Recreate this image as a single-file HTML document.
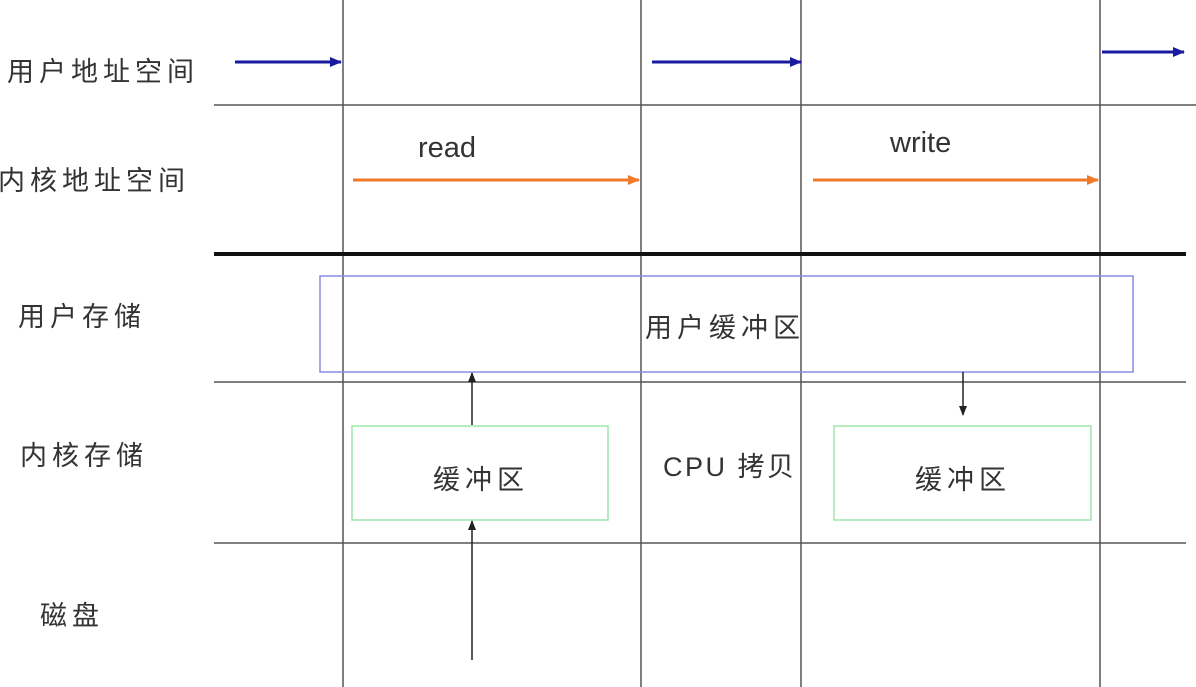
<!DOCTYPE html>
<html><head><meta charset="utf-8"><style>
html,body{margin:0;padding:0;background:#fff;width:1196px;height:687px;overflow:hidden}
svg text{font-family:"Liberation Sans","Noto Sans CJK SC",sans-serif;fill:#333}
</style></head><body>
<svg width="1196" height="687" viewBox="0 0 1196 687" xmlns="http://www.w3.org/2000/svg">
<defs>
<marker id="ab" markerWidth="12" markerHeight="12" refX="11" refY="6" orient="auto" markerUnits="userSpaceOnUse"><path d="M0,1 L12,6 L0,11z" fill="#1a1aa0"/></marker>
<marker id="ao" markerWidth="12" markerHeight="12" refX="11" refY="6" orient="auto" markerUnits="userSpaceOnUse"><path d="M0,1 L12,6 L0,11z" fill="#f07a2a"/></marker>
<marker id="ak" markerWidth="10" markerHeight="10" refX="9" refY="5" orient="auto" markerUnits="userSpaceOnUse"><path d="M0,1 L10,5 L0,9z" fill="#222"/></marker>
</defs>
<g stroke="#555" stroke-width="1.5">
<line x1="214" y1="105" x2="1196" y2="105"/>
<line x1="214" y1="382" x2="1186" y2="382"/>
<line x1="214" y1="543" x2="1186" y2="543"/>
<line x1="343" y1="0" x2="343" y2="687"/>
<line x1="641" y1="0" x2="641" y2="687"/>
<line x1="801" y1="0" x2="801" y2="687"/>
<line x1="1100" y1="0" x2="1100" y2="687"/>
</g>
<line x1="214" y1="254" x2="1186" y2="254" stroke="#111" stroke-width="4"/>
<rect x="320" y="276" width="813" height="96" fill="none" stroke="#8a8ae8" stroke-width="1.5"/>
<rect x="352" y="426" width="256" height="94" fill="none" stroke="#9ee6a8" stroke-width="1.5"/>
<rect x="834" y="426" width="257" height="94" fill="none" stroke="#9ee6a8" stroke-width="1.5"/>
<g stroke="#1a1aa0" stroke-width="3">
<line x1="235" y1="62" x2="341" y2="62" marker-end="url(#ab)"/>
<line x1="652" y1="62" x2="801" y2="62" marker-end="url(#ab)"/>
<line x1="1102" y1="52" x2="1184" y2="52" marker-end="url(#ab)"/>
</g>
<g stroke="#f07a2a" stroke-width="3">
<line x1="353" y1="180" x2="639" y2="180" marker-end="url(#ao)"/>
<line x1="813" y1="180" x2="1098" y2="180" marker-end="url(#ao)"/>
</g>
<g stroke="#222" stroke-width="1.5">
<line x1="472" y1="425" x2="472" y2="373" marker-end="url(#ak)"/>
<line x1="472" y1="660" x2="472" y2="521" marker-end="url(#ak)"/>
<line x1="963" y1="372" x2="963" y2="415" marker-end="url(#ak)"/>
</g>
<g font-size="27">
<text x="7" y="81" letter-spacing="5">用户地址空间</text>
<text x="-2" y="190" letter-spacing="5">内核地址空间</text>
<text x="18" y="326" letter-spacing="5">用户存储</text>
<text x="20" y="465" letter-spacing="5">内核存储</text>
<text x="40" y="625" letter-spacing="5">磁盘</text>
<text x="645" y="337" letter-spacing="5">用户缓冲区</text>
<text x="433" y="489" letter-spacing="5">缓冲区</text>
<text x="915" y="489" letter-spacing="5">缓冲区</text>
<text x="663" y="476" letter-spacing="2.5">CPU 拷贝</text>
<text x="418" y="157" font-size="29">read</text>
<text x="890" y="152" font-size="29">write</text>
</g>
</svg>
</body></html>
